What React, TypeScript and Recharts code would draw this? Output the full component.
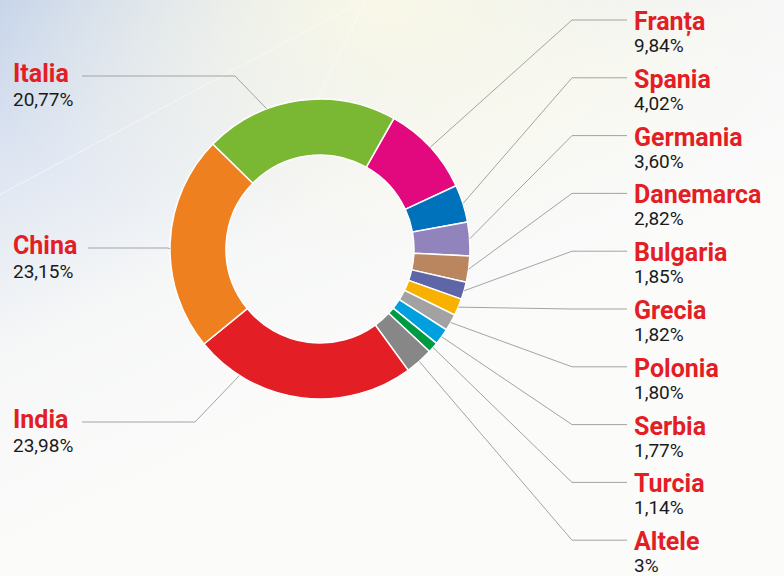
import { PieChart, Pie, Cell } from 'recharts';

const countries = [
  'Franța', 'Spania', 'Germania', 'Danemarca', 'Bulgaria', 'Grecia',
  'Polonia', 'Serbia', 'Turcia', 'Altele', 'India', 'China', 'Italia',
];
const shares = [9.84, 4.02, 3.6, 2.82, 1.85, 1.82, 1.8, 1.77, 1.14, 3, 23.98, 23.15, 20.77];
const COLORS = [
  '#e2097f', '#0072bb', '#9183bc', '#b98660', '#5e66a8', '#f8b100',
  '#a2a2a2', '#00a0df', '#009a44', '#878787', '#e31e24', '#ef8020', '#7ab833',
];

const chartData = countries.map((name, i) => ({ name, value: shares[i] }));

// label layout: right column labels stack, left ones are placed by hand
const RIGHT_COUNT = 10;
const LEFT_LAYOUT = [
  { lineY: 422, startX: 82, kneeX: 195, at: 0.79 }, // India
  { lineY: 248, startX: 88, kneeX: 168, at: 0.47 }, // China
  { lineY: 76, startX: 82, kneeX: 235, at: 0.33 }, // Italia
];

const RAD = Math.PI / 180;
const polar = (cx: number, cy: number, r: number, a: number) => ({
  x: cx + r * Math.cos(-a * RAD),
  y: cy + r * Math.sin(-a * RAD),
});

const fmt = (v: number) =>
  Number.isInteger(v) ? `${v}%` : `${v.toFixed(2).replace('.', ',')}%`;

const nameStyle = { fontFamily: 'Roboto', fontWeight: 700, fontSize: 25, fill: '#e31e24' };
const pctStyle = { fontFamily: 'Roboto', fontWeight: 400, fontSize: 19, fill: '#1a1a1a' };

function renderLabel(props: any) {
  const { cx, cy, outerRadius, startAngle, endAngle, index, name, value } = props;
  const right = index < RIGHT_COUNT;
  const layout = right
    ? { lineY: 20 + index * 57.8, at: 0.5 }
    : LEFT_LAYOUT[index - RIGHT_COUNT];
  const p = polar(cx, cy, outerRadius, startAngle + layout.at * (endAngle - startAngle));
  const lineY = layout.lineY;

  if (right) {
    const pts = `${p.x},${p.y} 572,${lineY} 627,${lineY}`;
    return (
      <g key={`lbl-${index}`}>
        <polyline points={pts} fill="none" stroke="#a3a3a3" strokeWidth={1} />
        <text x={634} y={lineY + 10} style={nameStyle}>{name}</text>
        <text x={634} y={lineY + 32} style={pctStyle}>{fmt(value)}</text>
      </g>
    );
  }
  const l = layout as (typeof LEFT_LAYOUT)[number];
  const pts = `${l.startX},${lineY} ${l.kneeX},${lineY} ${p.x},${p.y}`;
  return (
    <g key={`lbl-${index}`}>
      <polyline points={pts} fill="none" stroke="#a3a3a3" strokeWidth={1} />
      <text x={13} y={lineY + 6} style={nameStyle}>{name}</text>
      <text x={13} y={lineY + 30} style={pctStyle}>{fmt(value)}</text>
    </g>
  );
}

export default function App() {
  return (
    <div
      style={{
        position: 'absolute',
        left: 0,
        top: 0,
        width: 784,
        height: 576,
        overflow: 'hidden',
        background:
          'radial-gradient(ellipse 420px 260px at 380px 0px, rgba(252,250,230,0.9), rgba(252,250,230,0) 100%), linear-gradient(155deg, #c2d1ea 0%, #dfe6f2 18%, #f6f7f7 38%, #fbfbfa 60%, #fbfbfa 100%)',
      }}
    >
      <svg width={784} height={576} style={{ position: 'absolute', left: 0, top: 0 }}>
        {/* faint light rays behind the chart */}
        <g stroke="#ffffff" strokeWidth={1} opacity={0.55}>
          <line x1={372} y1={-4} x2={-10} y2={200} />
          <line x1={368} y1={-4} x2={318} y2={98} />
        </g>
      </svg>
      <div style={{ position: 'absolute', left: 0, top: 0 }}>
        <PieChart width={784} height={576} margin={{ top: 0, right: 0, bottom: 0, left: 0 }}>
          <Pie
            data={chartData}
            dataKey="value"
            nameKey="name"
            cx={320}
            cy={249}
            innerRadius={94}
            outerRadius={150}
            startAngle={60.5}
            endAngle={-299.5}
            stroke="#ffffff"
            strokeWidth={1.5}
            label={renderLabel}
            labelLine={false}
            isAnimationActive={false}
          >
            {chartData.map((entry, index) => (
              <Cell key={`cell-${entry.name}`} fill={COLORS[index % COLORS.length]} />
            ))}
          </Pie>
        </PieChart>
      </div>
    </div>
  );
}
